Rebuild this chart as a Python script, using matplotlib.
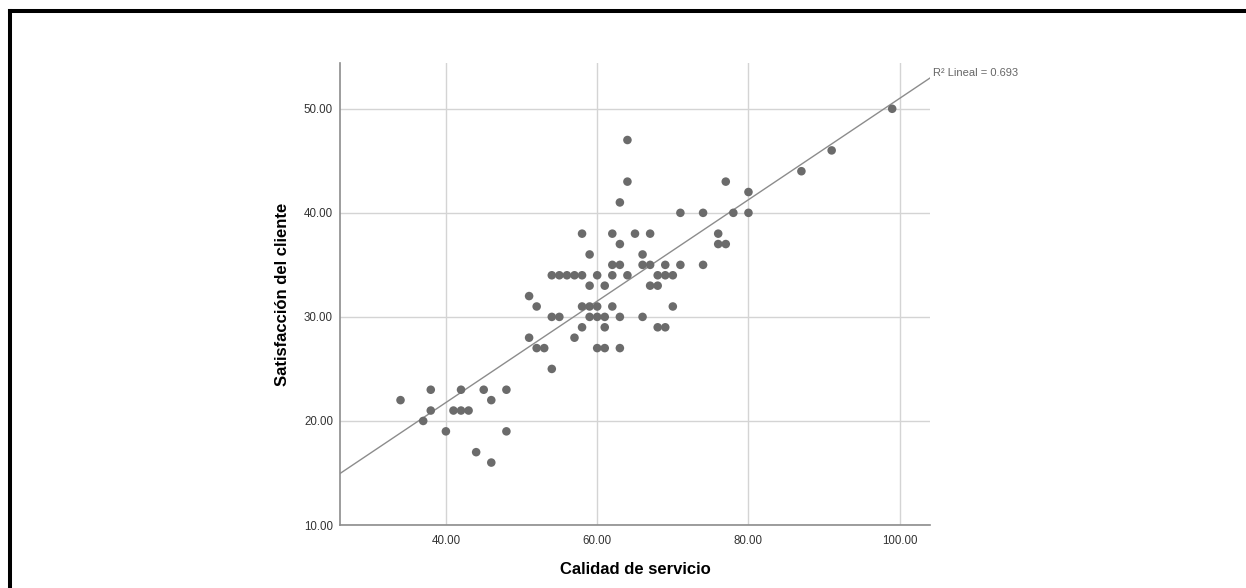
import numpy as np
import matplotlib
matplotlib.use("Agg")
import matplotlib.pyplot as plt
from matplotlib.lines import Line2D

plt.rcParams['font.family'] = ['Liberation Sans', 'DejaVu Sans']

# Calidad de servicio (x) / Satisfaccion del cliente (y)
calidad = [34, 38, 42, 45, 48, 46, 38, 41, 42, 43, 37, 40, 48, 44, 46,
           62, 63, 66, 67, 69, 71, 74,
           54, 55, 56, 57, 58, 60, 62, 64, 68, 69, 70,
           59, 61, 67, 68,
           51,
           52, 58, 59, 60, 62, 70,
           54, 55, 59, 60, 61, 63, 66,
           58, 61, 68, 69,
           51, 57,
           52, 53, 60, 61, 63,
           54,
           59, 66,
           63, 76, 77,
           58, 62, 65, 67, 76,
           71, 74, 78, 80,
           63, 80, 64, 77, 87, 91, 64, 99]
satisf = [22, 23, 23, 23, 23, 22, 21, 21, 21, 21, 20, 19, 19, 17, 16,
          35, 35, 35, 35, 35, 35, 35,
          34, 34, 34, 34, 34, 34, 34, 34, 34, 34, 34,
          33, 33, 33, 33,
          32,
          31, 31, 31, 31, 31, 31,
          30, 30, 30, 30, 30, 30, 30,
          29, 29, 29, 29,
          28, 28,
          27, 27, 27, 27, 27,
          25,
          36, 36,
          37, 37, 37,
          38, 38, 38, 38, 38,
          40, 40, 40, 40,
          41, 42, 43, 43, 44, 46, 47, 50]
r2_label = 0.693  # as printed on the chart

x = np.array(calidad, dtype=float)
y = np.array(satisf, dtype=float)
b, a = np.polyfit(x, y, 1)

fig = plt.figure(figsize=(12.46, 5.88), dpi=100)
ax = fig.add_axes([340 / 1246, 1 - 525 / 588, 590 / 1246, 462 / 588])

xmin, xmax = 26.0, 104.0
ymin, ymax = 10, 54.4

ax.grid(True, color='#d4d4d4', linewidth=1.0, zorder=0)
ax.set_axisbelow(True)
ax.scatter(x, y, s=38, color='#6b6b6b', edgecolors='none', zorder=3)

xs = np.array([xmin, xmax])
ax.plot(xs, a + b * xs, color='#8c8c8c', linewidth=1.0, zorder=2)

ax.set_xlim(xmin, xmax)
ax.set_ylim(ymin, ymax)
ax.set_xticks([40, 60, 80, 100])
ax.set_yticks([10, 20, 30, 40, 50])
ax.set_xticklabels(['%.2f' % v for v in [40, 60, 80, 100]])
ax.set_yticklabels(['%.2f' % v for v in [10, 20, 30, 40, 50]])
ax.tick_params(length=0, labelsize=8.3, colors='#333333')
ax.tick_params(axis='x', pad=7)
ax.tick_params(axis='y', pad=5)

for s in ['top', 'right']:
    ax.spines[s].set_visible(False)
for s in ['left', 'bottom']:
    ax.spines[s].set_color('#8c8c8c')
    ax.spines[s].set_linewidth(1.2)

ax.set_xlabel('Calidad de servicio', fontsize=12, fontweight='bold', labelpad=11)
ax.set_ylabel('Satisfacción del cliente', fontsize=12, fontweight='bold', labelpad=10)

ax.text(1.005, 0.979, 'R² Lineal = %.3f' % r2_label, transform=ax.transAxes,
        fontsize=8, color='#666666', ha='left', va='center')

# black frame (left and top edges visible)
fig.add_artist(Line2D([0.008, 0.008], [0.0, 0.9813], color='black',
                      linewidth=2.9, transform=fig.transFigure,
                      solid_capstyle='projecting'))
fig.add_artist(Line2D([0.008, 1.0], [0.9813, 0.9813], color='black',
                      linewidth=2.9, transform=fig.transFigure,
                      solid_capstyle='projecting'))

fig.savefig('out.png', dpi=100)
